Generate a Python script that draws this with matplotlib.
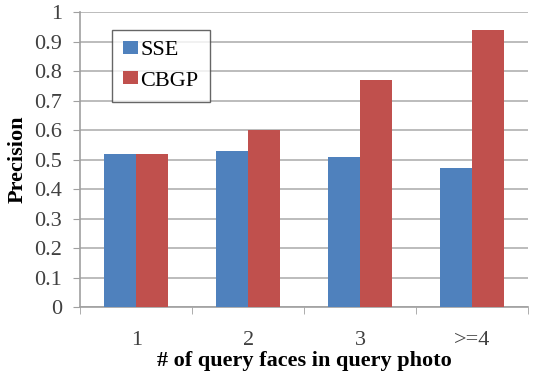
import matplotlib
matplotlib.use('Agg')
import matplotlib.pyplot as plt
import numpy as np

categories = ['1', '2', '3', '>=4']
sse = [0.52, 0.53, 0.51, 0.47]
cbgp = [0.52, 0.60, 0.77, 0.94]

plt.rcParams['font.family'] = 'Liberation Serif'

fig = plt.figure(figsize=(5.35, 3.75), dpi=100)
ax = fig.add_axes([0.150, 0.181, 0.837, 0.787])

x = np.arange(len(categories))
w = 0.285
ax.bar(x - w / 2, sse, w, color='#4F81BD', label='SSE', zorder=3)
ax.bar(x + w / 2, cbgp, w, color='#C0504D', label='CBGP', zorder=3)

ax.set_xlim(-0.5, len(categories) - 0.5)
ax.set_ylim(0, 1)
ax.set_yticks(np.arange(0, 1.01, 0.1))
ax.set_yticklabels(['0'] + ['%.1f' % v for v in np.arange(0.1, 0.95, 0.1)] + ['1'])
ax.set_xticks(x)
ax.set_xticklabels(categories)
ax.set_xticks(np.arange(-0.5, len(categories)), minor=True)
ax.tick_params(axis='x', which='major', length=0, labelsize=16, pad=17, colors='#404040')
ax.tick_params(axis='x', which='minor', length=5, color='#A0A0A0', direction='out')
ax.tick_params(axis='y', length=5, labelsize=16, pad=8, colors='#404040')
ax.tick_params(axis='y', which='major', color='#A0A0A0')

ax.grid(axis='y', color='#B0B0B0', linewidth=1.2, zorder=0)
for s in ['top', 'right']:
    ax.spines[s].set_visible(False)
for s in ['left', 'bottom']:
    ax.spines[s].set_color('#A0A0A0')
    ax.spines[s].set_linewidth(1.2)

ax.set_ylabel('Precision', fontsize=16, fontweight='bold', labelpad=5)
ax.set_xlabel('# of query faces in query photo', fontsize=16, fontweight='bold', labelpad=1)

leg = ax.legend(loc='upper left', bbox_to_anchor=(0.071, 0.939), fontsize=16,
                frameon=True, fancybox=False, handlelength=0.68, handleheight=0.5,
                handletextpad=0.1, borderpad=0.5, labelspacing=0.5, borderaxespad=0)
leg.get_frame().set_edgecolor('#404040')
leg.get_frame().set_linewidth(1.0)

fig.savefig('out.png', dpi=100)
